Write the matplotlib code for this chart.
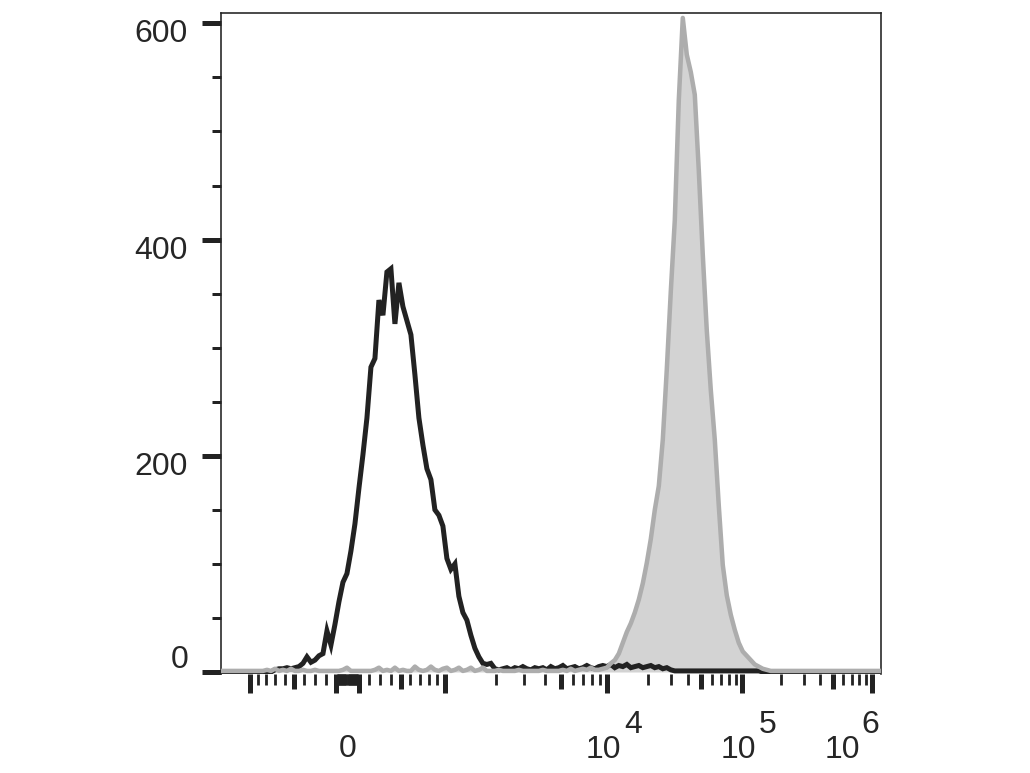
import numpy as np
import matplotlib
matplotlib.use("Agg")
import matplotlib.pyplot as plt
from matplotlib.ticker import FixedLocator, NullFormatter

# ---------------- data (counts per display channel, 165 channels) ----------------
black_counts = (
    [0] * 13
    + [2, 3, 3, 4, 3, 4, 5, 8, 14, 9, 11, 15, 17, 38, 25, 44, 65, 83, 91, 112,
       137, 170, 201, 235, 282, 290, 344, 330, 370, 373, 322, 360, 338, 325, 312,
       275, 235, 210, 188, 178, 150, 145, 135, 105, 95, 100, 70, 55, 48, 34, 22,
       14, 8, 7, 8, 3, 2]
    + [3, 4, 2, 4, 3, 5, 3, 2, 4, 3, 4, 2, 5, 3, 4, 6, 3, 4, 5, 3, 4, 6, 4, 3, 5]
    + [6, 5, 7, 4, 6, 5, 7, 4, 5, 6, 4, 5, 6, 4, 5, 3, 4, 2]
    + [1] * 22
    + [0] * 30
)

gray_counts = (
    [1] * 11
    + [2, 1, 3, 1, 2, 1, 3, 1, 1, 2, 1, 1, 2, 1, 1, 1, 1, 1, 1, 2, 4, 1, 1, 1,
       1, 1, 1, 2, 4, 1, 2, 1, 4, 1, 2, 1, 1, 5, 2, 1, 2, 5, 2, 1, 3, 4, 1, 2,
       4, 1, 2, 4, 1, 2, 4, 1, 1, 1, 2, 1, 1, 1, 1, 2, 1, 1, 1, 1, 1, 2, 1, 1,
       1, 1, 2, 1, 3, 1, 2, 3, 2, 4, 2]
    + [2, 3, 4, 8, 11, 17, 27, 37, 45, 55, 67, 82, 101, 123, 150, 172, 215, 280,
       352, 418, 529, 605, 571, 555, 534, 464, 386, 316, 261, 215, 154, 99, 71,
       53, 39, 27, 19, 15, 11, 7, 5, 3, 2]
    + [1] * 28
)

n_channels = 165

# tick values (data units)
major_xticks = [-1000, -100, 100, 1000, 10000, 100000, 1000000]
medium_xticks = [-500, 500, 5000, 50000, 500000]
minor_xticks = ([-900, -800, -700, -600, -400, -300, -200]
                + [-90, -80, -70, -60, -50, -40, -30, -20, -10, 0,
                   10, 20, 30, 40, 50, 60, 70, 80, 90]
                + [200, 300, 400, 600, 700, 800, 900]
                + [2000, 3000, 4000, 6000, 7000, 8000, 9000]
                + [20000, 30000, 40000, 60000, 70000, 80000, 90000]
                + [200000, 300000, 400000, 600000, 700000, 800000, 900000])
x_label_values = [0, 10000, 100000, 1000000]
x_label_bases = ["0", "10", "10", "10"]
x_label_exps = ["", "4", "5", "6"]

y_major = [0, 200, 400, 600]
y_minor = [50, 100, 150, 250, 300, 350, 450, 500, 550]
y_labels = ["0", "200", "400", "600"]

# ---------------- biexponential-like display scale ----------------
anchor_values = [-1e7, -1e6, -1e5, -1e4, -5e3, -2e3, -1e3, 0,
                 1e3, 2e3, 5e3, 1e4, 1e5, 1e6, 1e7]
anchor_channels = [-132.07, -99.55, -67.04, -33.27, -21.76, -5.50, 7.25, 31.64,
                   56.03, 68.78, 85.04, 96.55, 130.32, 162.83, 195.35]
C = 1000.0
G = np.arcsinh(np.array(anchor_values) / C)
D = np.array(anchor_channels)


def forward(x):
    x = np.asarray(x, dtype=float)
    return np.interp(np.arcsinh(x / C), G, D)


def inverse(d):
    d = np.asarray(d, dtype=float)
    return C * np.sinh(np.interp(d, D, G))


plt.rcParams["font.family"] = ["Liberation Sans", "DejaVu Sans"]
TXT = "#262626"
PX = 72.0 / 100.0  # points per pixel at dpi 100

fig = plt.figure(figsize=(10.30, 7.73), dpi=100)
ax = fig.add_axes([221 / 1030, 1 - 674 / 773, (880.7 - 221) / 1030, (674 - 13.3) / 773])
ax.set_xscale("function", functions=(forward, inverse))

centers = np.arange(n_channels) + 0.5
xvals = inverse(centers)
gray = np.array(gray_counts, dtype=float)
black = np.array(black_counts, dtype=float)

ax.fill_between(xvals, 0, gray, color="#d3d3d3", lw=0, zorder=1)
ax.plot(xvals, black, color="#222222", lw=5 * PX, zorder=2, solid_joinstyle="miter")
ax.plot(xvals, gray, color="#adadad", lw=4.5 * PX, zorder=3)

ax.set_xlim(inverse(0.0), inverse(float(n_channels)))
ax.set_ylim(-1.85, 609.3)

# spines
for side in ["left", "top", "right"]:
    ax.spines[side].set_color("#222222")
    ax.spines[side].set_linewidth(1.6 * PX)
ax.spines["bottom"].set_visible(False)

# ticks
allmaj = sorted(major_xticks + medium_xticks)
ax.xaxis.set_major_locator(FixedLocator(allmaj))
ax.xaxis.set_minor_locator(FixedLocator(minor_xticks))
ax.xaxis.set_major_formatter(NullFormatter())
ax.xaxis.set_minor_formatter(NullFormatter())
ax.tick_params(axis="x", which="major", direction="out", length=19 * PX,
               width=5 * PX, color="#222222", bottom=True, top=False)
ax.tick_params(axis="x", which="minor", direction="out", length=11 * PX,
               width=2.8 * PX, color="#222222", bottom=True, top=False)
for t, v in zip(ax.xaxis.get_major_ticks(len(allmaj)), allmaj):
    if v in medium_xticks:
        t.tick1line.set_markersize(15 * PX)

ax.yaxis.set_major_locator(FixedLocator(y_major))
ax.yaxis.set_minor_locator(FixedLocator(y_minor))
ax.yaxis.set_major_formatter(NullFormatter())
ax.yaxis.set_minor_formatter(NullFormatter())
ax.tick_params(axis="y", which="major", direction="out", length=19 * PX,
               width=5 * PX, color="#222222", left=True, right=False)
ax.tick_params(axis="y", which="minor", direction="out", length=9 * PX,
               width=3 * PX, color="#222222", left=True, right=False)

# y labels
for v, s in zip(y_major, y_labels):
    dy = 12 if v == 0 else -11
    ax.annotate(s, xy=(0, v), xycoords=("axes fraction", "data"),
                xytext=(-33, dy), textcoords="offset pixels",
                ha="right", va="center", fontsize=23, color=TXT)

# x labels
for v, b, e in zip(x_label_values, x_label_bases, x_label_exps):
    if e == "":
        ax.annotate(b, xy=(v, 0), xycoords=("data", "axes fraction"),
                    xytext=(0, -75), textcoords="offset pixels",
                    ha="center", va="center", fontsize=23, color=TXT)
    else:
        shift = -30 if e == "6" else -4
        ax.annotate(b, xy=(v, 0), xycoords=("data", "axes fraction"),
                    xytext=(shift, -76), textcoords="offset pixels",
                    ha="center", va="center", fontsize=23, color=TXT)
        eshift = -2 if e == "6" else 26
        ax.annotate(e, xy=(v, 0), xycoords=("data", "axes fraction"),
                    xytext=(eshift, -51), textcoords="offset pixels",
                    ha="center", va="center", fontsize=23, color=TXT)

fig.savefig("out.png", dpi=100)
